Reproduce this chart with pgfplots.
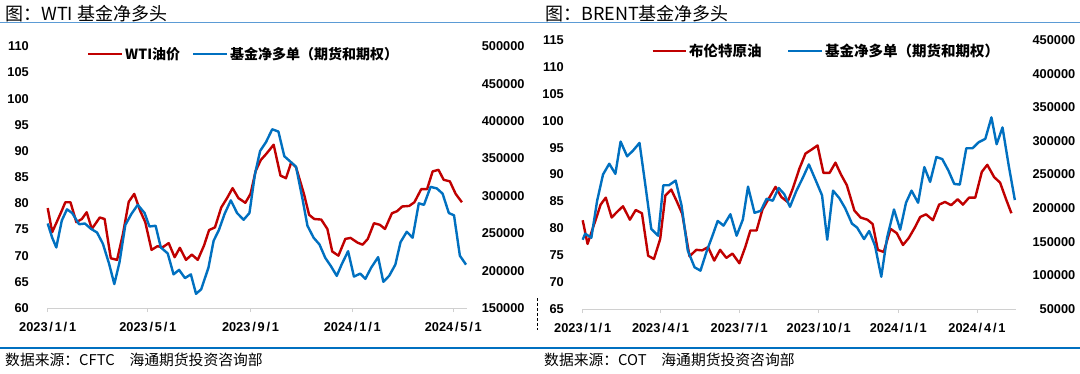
\documentclass[border=0pt]{standalone}
\usepackage{pgfplots}
\pgfplotsset{compat=1.18}
\usepackage{fontspec}
\setmainfont{Liberation Sans}
\newfontfamily\cjk{Noto Sans CJK SC}
\definecolor{wred}{HTML}{C00000}
\definecolor{wblue}{HTML}{0070C0}
\definecolor{axgray}{HTML}{D0D0D0}
\definecolor{tline}{HTML}{5B9BD5}
\newcommand{\tkf}{\fontsize{12.8}{14}\selectfont\bfseries}
\newcommand{\dt}[3]{#1\kern1.8pt/\kern1.8pt#2\kern1.8pt/\kern1.8pt#3}
\pgfplotsset{
  base/.style={
    scale only axis, anchor=south west,
    /pgf/number format/assume math mode=true,
    ticklabel style={font=\tkf},
    clip=false,
  },
  leftax/.style={
    base,
    axis x line*=bottom, axis y line*=left,
    x axis line style={draw=axgray, line width=0.9pt, -},
    y axis line style={draw=none},
    ytick style={draw=none},
    xtick style={draw=axgray, line width=0.9pt},
    tick align=outside, major tick length=4pt,
    xticklabel style={anchor=center, yshift=-15pt},
    yticklabel style={anchor=east, inner sep=0pt, xshift=-14.7pt},
  },
  rightax/.style={
    base,
    axis x line=none, axis y line*=right,
    y axis line style={draw=none},
    ytick style={draw=none},
    scaled y ticks=false,
    yticklabel style={/pgf/number format/fixed, /pgf/number format/1000 sep={}},
  },
  redl/.style={wred, line width=2.4pt, line join=round},
  bluel/.style={wblue, line width=2.4pt, line join=round},
}
\pgfplotstableread{
d v
0 79.1
5.4 74.5
11.6 76.7
16.9 78.6
21.1 80.2
27.3 80.2
34.3 76.4
40.9 77.0
46.7 78.3
52.9 75.1
62.4 77.3
68.2 77.0
75.6 69.5
83.1 69.2
90.1 74.1
97.1 80.3
103.7 81.8
110.7 78.6
116.9 76.4
124.4 71.1
131.4 71.8
137.6 71.6
145.0 72.4
152.1 69.7
158.3 71.5
165.7 69.2
172.7 70.2
179.8 69.2
187.2 71.9
193.4 74.9
200.4 75.4
207.9 79.2
214.9 81.0
221.5 82.9
228.5 81.0
236.8 80.1
243.0 81.8
249.2 86.2
255.4 88.3
261.6 89.4
265.7 90.2
270.7 91.2
278.9 85.3
285.5 84.8
291.7 87.8
297.5 86.9
307.0 81.8
313.2 77.8
319.4 77.0
327.7 76.9
335.1 75.1
340.9 70.8
348.3 70.0
356.6 73.2
362.8 73.4
371.1 72.5
377.3 72.1
383.5 73.2
390.9 76.2
397.9 75.9
404.1 75.1
412.4 78.1
418.6 78.5
424.8 79.4
433.1 79.5
439.3 80.2
447.5 82.7
454.5 82.7
461.2 86.1
468.2 86.4
474.4 84.5
481.8 84.2
488.8 81.8
496.3 80.2
}\wtiprice
\pgfplotstableread{
d v
0 263000
5.4 244000
10.3 231000
16.9 267000
23.1 282000
29.3 277000
37.6 262000
44.6 263000
51.7 256000
59.1 251000
66.1 236000
73.6 209000
79.8 182000
86.0 211000
93.0 261000
100.4 276000
107.9 288000
116.1 277000
121.9 259000
129.3 260000
135.5 231000
143.8 223000
150.8 195000
157.4 201000
164.5 190000
171.5 195000
177.7 169000
183.9 175000
192.6 204000
198.8 240000
205.0 254000
212.0 276000
219.4 294000
226.9 277000
234.7 268000
241.7 277000
248.3 329000
254.5 360000
261.6 372000
269.0 389000
276.4 386000
283.5 353000
290.5 346000
297.5 339000
304.9 298000
311.2 260000
318.6 244000
325.6 235000
332.6 217000
339.3 206000
346.3 193000
352.5 209000
359.9 226000
366.9 192000
374.4 196000
380.6 189000
387.6 204000
395.9 218000
402.1 185000
409.1 193000
416.5 208000
422.7 238000
430.2 252000
437.2 244000
444.6 290000
450.8 288000
458.7 312000
466.1 310000
473.1 303000
480.6 277000
486.8 274000
493.8 220000
501.2 208000
}\wtinet
\pgfplotstableread{
d v
0 81.5
5.6 77.1
10.8 79.6
16.7 82.4
20.7 84.4
26.7 85.7
33.5 82.0
39.4 83.0
46.6 84.1
54.6 81.6
61.3 83.4
68.5 82.8
75.7 74.9
82.4 74.3
89.6 78.0
95.6 86.1
102.4 87.2
109.1 84.9
115.1 82.7
123.5 74.8
131.4 76.0
138.2 75.9
145.0 76.5
152.1 74.0
158.9 76.0
166.1 74.5
173.2 75.3
181.2 73.5
188.0 76.5
193.9 79.6
201.1 79.6
207.9 83.5
215.1 85.5
223.0 87.7
229.8 85.8
237.0 84.9
243.0 87.4
250.6 91.1
257.7 93.9
264.4 94.6
271.6 95.4
278.4 90.3
285.5 90.3
292.3 92.2
298.7 90.0
305.5 88.0
314.2 83.3
321.4 82.0
329.3 81.6
335.3 80.8
341.3 76.0
348.1 75.6
356.0 79.9
363.2 79.1
370.4 76.9
377.1 78.2
384.3 80.2
390.3 82.1
397.1 82.6
405.0 81.5
412.2 84.4
419.0 84.9
426.1 84.3
433.7 85.4
439.7 84.4
446.8 85.7
454.0 85.7
461.6 90.5
467.9 91.8
475.9 89.5
482.7 88.5
489.4 85.5
495.8 82.8
}\brentprice
\pgfplotstableread{
d v
0 153000
2.8 162000
10.0 156000
16.7 211000
23.5 250000
30.7 266000
37.8 251000
43.8 299000
51.4 277000
58.5 286000
65.7 297000
72.5 234000
79.3 169000
87.2 159000
93.2 234000
99.6 234000
107.5 241000
114.3 204000
121.5 137000
129.4 112000
136.2 107000
143.4 136000
150.1 159000
156.1 181000
162.9 174000
170.8 191000
178.0 159000
185.2 183000
191.2 232000
198.7 193000
205.9 196000
212.7 214000
219.8 211000
226.6 230000
233.0 221000
239.7 202000
246.9 225000
254.5 245000
261.6 265000
269.6 241000
276.8 219000
282.8 153000
289.5 226000
296.7 215000
303.5 200000
311.4 177000
317.4 171000
325.4 154000
331.3 166000
338.1 144000
345.3 98000
352.0 156000
360.0 198000
367.2 168000
373.9 208000
380.3 226000
387.9 208000
395.1 261000
401.8 239000
409.0 276000
415.8 273000
422.9 256000
429.7 236000
436.1 235000
443.6 289000
450.8 289000
458.0 298000
465.6 303000
472.7 335000
478.7 295000
485.5 320000
492.6 264000
499.8 212000
}\brentnet
\begin{document}
\begin{tikzpicture}
\path[use as bounding box, fill=white] (0,0) rectangle (1080pt,-373pt);
% titles and rules
\node[anchor=west, inner sep=0pt, font=\cjk\fontsize{18}{20}\selectfont] at (5pt,-13.5pt) {图：WTI 基金净多头};
\node[anchor=west, inner sep=0pt, font=\cjk\fontsize{18}{20}\selectfont] at (545pt,-13.5pt) {图：BRENT基金净多头};
\draw[tline, line width=1pt] (0,-22.7pt) -- (1080pt,-22.7pt);
\draw[wblue, line width=2pt] (0,-348pt) -- (1080pt,-348pt);
\node[anchor=west, inner sep=0pt, font=\cjk\fontsize{14.8}{16}\selectfont] at (5pt,-359.5pt) {数据来源：CFTC　海通期货投资咨询部};
\node[anchor=west, inner sep=0pt, font=\cjk\fontsize{14.8}{16}\selectfont] at (544pt,-359.5pt) {数据来源：COT　海通期货投资咨询部};
\draw[black, line width=1pt, dash pattern=on 3pt off 2pt] (537.7pt,-298pt) -- (537.7pt,-330pt);
% ---------- left panel
\begin{axis}[leftax, at={(47.7pt,-308pt)}, width=419pt, height=261.7pt,
  xmin=0, xmax=502, ymin=60, ymax=110, ytick={60,65,...,110},
  xtick={0,120,243,365,486},
  xticklabels={\dt{2023}{1}{1},\dt{2023}{5}{1},\dt{2023}{9}{1},\dt{2024}{1}{1},\dt{2024}{5}{1}}]
\addplot[redl] table[x=d, y=v] {\wtiprice};
\end{axis}
\begin{axis}[rightax, at={(47.7pt,-308pt)}, width=419pt, height=261.7pt,
  xmin=0, xmax=502, ymin=150000, ymax=500000, ytick={150000,200000,...,500000},
  yticklabel style={anchor=east, inner sep=0pt, xshift=58pt}]
\addplot[bluel] table[x=d, y=v] {\wtinet};
\end{axis}
% ---------- right panel
\begin{axis}[leftax, at={(582.7pt,-309pt)}, width=433.2pt, height=269pt,
  xmin=0, xmax=501, ymin=65, ymax=115, ytick={65,70,...,115},
  xtick={0,90,181,273,365,456},
  xticklabels={\dt{2023}{1}{1},\dt{2023}{4}{1},\dt{2023}{7}{1},\dt{2023}{10}{1},\dt{2024}{1}{1},\dt{2024}{4}{1}}]
\addplot[redl] table[x=d, y=v] {\brentprice};
\end{axis}
\begin{axis}[rightax, at={(582.7pt,-309pt)}, width=433.2pt, height=269pt,
  xmin=0, xmax=501, ymin=50000, ymax=450000, ytick={50000,100000,...,450000},
  yticklabel style={anchor=east, inner sep=0pt, xshift=59.6pt}]
\addplot[bluel] table[x=d, y=v] {\brentnet};
\end{axis}
% legends
\draw[wred, line width=2.4pt] (88pt,-54pt) -- (122pt,-54pt);
\node[anchor=west, inner sep=0pt, font=\cjk\bfseries\fontsize{14}{16}\selectfont] at (125pt,-54pt) {WTI油价};
\draw[wblue, line width=2.4pt] (193pt,-54pt) -- (227pt,-54pt);
\node[anchor=west, inner sep=0pt, font=\cjk\bfseries\fontsize{14}{16}\selectfont] at (230pt,-54pt) {基金净多单（期货和期权）};
\draw[wred, line width=2.4pt] (652.7pt,-50.7pt) -- (686pt,-50.7pt);
\node[anchor=west, inner sep=0pt, font=\cjk\bfseries\fontsize{14.5}{16}\selectfont] at (689pt,-50.7pt) {布伦特原油};
\draw[wblue, line width=2.4pt] (788pt,-50.7pt) -- (822pt,-50.7pt);
\node[anchor=west, inner sep=0pt, font=\cjk\bfseries\fontsize{14.5}{16}\selectfont] at (825pt,-50.7pt) {基金净多单（期货和期权）};
\end{tikzpicture}
\end{document}
